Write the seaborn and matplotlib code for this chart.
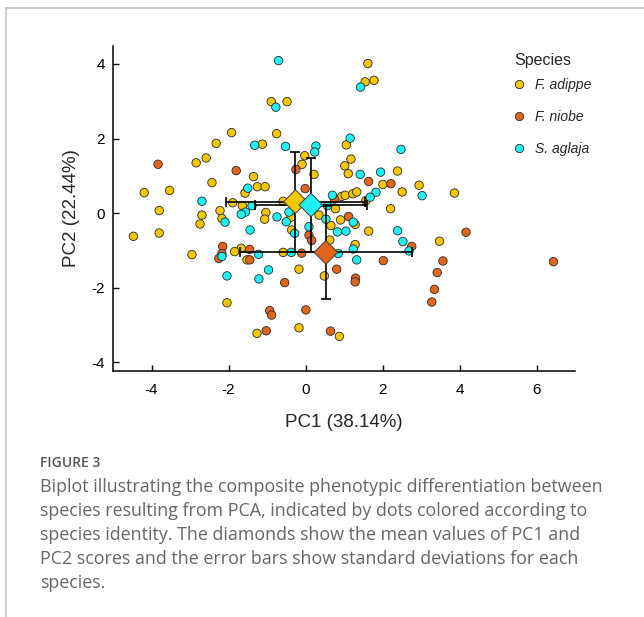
import matplotlib
matplotlib.use("Agg")
import matplotlib.pyplot as plt
from matplotlib.lines import Line2D
import seaborn as sns
import pandas as pd

# ---------------- data ----------------
species_names = ["F. adippe", "F. niobe", "S. aglaja"]
species_colors = ["#F4C600", "#E2651C", "#1EF0F4"]

adippe_pc1 = [-0.89, -0.48, -0.75, -1.92, -2.32, -1.12, -2.58, -2.84, -1.35, -2.43,
              -1.25, -1.05, -1.57, -4.19, -3.53, -1.89, -1.64, -2.22, -3.80, -0.58,
              -2.69, -1.03, -2.74, -2.17, -1.06, -0.38, -0.36, -0.02, -0.09, 0.22,
              1.06, 1.18, 1.02, 1.11, 2.39, 2.01, 2.95, 2.51, 0.94, 1.03,
              1.23, 1.33, 0.78, 1.57, 2.21, 0.35, 0.91, 0.66, 1.64, 3.87,
              1.62, 1.55, 1.78, 0.63, 1.29, 1.29, 3.48, -0.17, 0.49, -0.17,
              0.88, -4.47, -3.80, -2.95, -1.67, -1.84, -1.52, -0.58, -2.04, -1.26]
adippe_pc2 = [2.99, 2.99, 2.13, 2.16, 1.87, 1.85, 1.48, 1.35, 0.98, 0.82,
              0.71, 0.71, 0.54, 0.55, 0.61, 0.28, 0.20, 0.07, 0.07, 0.32,
              -0.05, 0.02, -0.29, -0.14, -0.16, -0.11, -0.45, 1.54, 1.31, 1.04,
              1.83, 1.45, 1.27, 1.06, 1.13, 0.77, 0.75, 0.57, 0.45, 0.48,
              0.52, 0.57, 0.12, 0.34, 0.12, -0.05, -0.18, -0.33, -0.48, 0.54,
              4.01, 3.52, 3.56, -0.72, -0.84, -0.30, -0.75, -1.50, -1.68, -3.07,
              -3.30, -0.62, -0.53, -1.11, -0.94, -1.03, -1.25, -1.05, -2.40, -3.22]

niobe_pc1 = [-3.83, -1.80, -0.25, -0.01, 1.64, 2.22, 0.75, 1.12, 0.09, 0.16,
             4.17, 2.76, 2.02, -0.10, 0.81, 1.30, 1.29, 3.57, 3.42, 3.35,
             3.28, 0.01, 0.65, 6.44, -2.15, -2.17, -2.25, -1.45, -1.45, -0.54,
             -0.93, -0.88, -1.02]
niobe_pc2 = [1.31, 1.14, 1.17, 0.66, 0.85, 0.79, 0.38, -0.09, -0.59, -0.73,
             -0.51, -0.89, -1.27, -1.07, -1.50, -1.74, -1.84, -1.28, -1.59, -2.04,
             -2.38, -2.59, -3.16, -1.30, -0.89, -1.08, -1.21, -0.97, -1.25, -1.86,
             -2.61, -2.73, -3.15]

aglaja_pc1 = [-0.70, -0.77, -1.32, -0.52, -1.50, -2.69, -1.39, -0.43, -1.56, -1.67,
              -0.74, -2.09, -0.50, -1.44, -0.28, 0.27, 0.24, 0.09, 1.16, 2.48,
              1.42, 1.95, 3.03, 1.83, 0.70, 0.57, 1.68, 0.53, 1.24, 2.39,
              0.83, 1.05, 2.53, 2.69, 1.24, 0.85, 1.33, -0.37, 1.43, -2.17,
              -1.22, -0.96, -1.21, -2.04]
aglaja_pc2 = [4.09, 2.84, 1.82, 1.79, 0.67, 0.32, 0.20, 0.03, 0.03, -0.03,
              -0.10, -0.24, -0.23, -0.45, -0.54, 1.80, 1.64, -0.36, 2.01, 1.71,
              1.04, 1.10, 0.47, 0.56, 0.48, 0.20, 0.43, -0.16, -0.24, -0.47,
              -0.50, -0.48, -0.76, -1.01, -0.96, -1.08, -1.25, -1.05, 3.38, -1.16,
              -1.10, -1.52, -1.76, -1.68]

mean_pc1 = [-0.26, 0.53, 0.14]
mean_pc2 = [0.31, -1.05, 0.22]
sd_pc1 = [1.81, 2.24, 1.45]
sd_pc2 = [1.34, 1.24, 1.25]

x_ticks = [-4, -2, 0, 2, 4, 6]
y_ticks = [-4, -2, 0, 2, 4]

caption_lines = [
    "Biplot illustrating the composite phenotypic differentiation between",
    "species resulting from PCA, indicated by dots colored according to",
    "species identity. The diamonds show the mean values of PC1 and",
    "PC2 scores and the error bars show standard deviations for each",
    "species.",
]

# ---------------- build tables ----------------
points = pd.concat([
    pd.DataFrame({"PC1": adippe_pc1, "PC2": adippe_pc2, "Species": species_names[0]}),
    pd.DataFrame({"PC1": niobe_pc1, "PC2": niobe_pc2, "Species": species_names[1]}),
    pd.DataFrame({"PC1": aglaja_pc1, "PC2": aglaja_pc2, "Species": species_names[2]}),
], ignore_index=True)
means = pd.DataFrame({"PC1": mean_pc1, "PC2": mean_pc2, "sd1": sd_pc1, "sd2": sd_pc2,
                      "Species": species_names})
palette = dict(zip(species_names, species_colors))

# ---------------- style ----------------
sns.set_style("ticks")
plt.rcParams["font.family"] = ["Liberation Sans", "DejaVu Sans"]

W, H = 644, 617
fig = plt.figure(figsize=(W / 100, H / 100), dpi=100)
ax = fig.add_axes([113 / W, 1 - 370.7 / H, (575 - 113) / W, (370.7 - 46) / H])

sns.scatterplot(data=points, x="PC1", y="PC2", hue="Species", palette=palette,
                hue_order=species_names, s=37, edgecolor="#2a2a2a", linewidth=0.6,
                legend=False, ax=ax, zorder=2)

for _, r in means.iterrows():
    ax.errorbar(r["PC1"], r["PC2"], xerr=r["sd1"], yerr=r["sd2"], fmt="none",
                ecolor="black", elinewidth=1.2, capsize=3.8, capthick=1.2, zorder=3)

sns.scatterplot(data=means, x="PC1", y="PC2", hue="Species", palette=palette,
                hue_order=species_names, marker="D", s=145, edgecolor="#3a3a3a",
                linewidth=0.7, legend=False, ax=ax, zorder=4)

ax.set_xlim(-5, 7)
ax.set_ylim(-4.22, 4.48)
ax.set_xticks(x_ticks)
ax.set_yticks(y_ticks)
ax.set_xticklabels([str(v) for v in x_ticks])
ax.set_yticklabels([str(v) for v in y_ticks])
ax.tick_params(direction="in", length=4, width=1, labelsize=11, colors="black", pad=9)
ax.tick_params(axis="y", pad=6)
for s in ["top", "right"]:
    ax.spines[s].set_visible(False)
for s in ["left", "bottom"]:
    ax.spines[s].set_linewidth(1.1)
    ax.spines[s].set_color("black")
ax.set_xlabel("PC1 (38.14%)", fontsize=13.5, labelpad=12)
ax.set_ylabel("PC2 (22.44%)", fontsize=13.5, labelpad=8)

# legend: title as its own text, entries as legend
ax.text(514 / W, 1 - 60 / H, "Species", transform=fig.transFigure, fontsize=11.5,
        ha="left", va="center")
handles = [Line2D([0], [0], marker="o", linestyle="none", markersize=6.0,
                  markerfacecolor=c, markeredgecolor="#2a2a2a", markeredgewidth=0.6)
           for c in species_colors]
leg = ax.legend(handles, species_names, loc="upper left",
                bbox_to_anchor=(0.866, (370.7 - 78) / 324.7), frameon=False,
                borderaxespad=0, borderpad=0, handlelength=0.8, handletextpad=0.75,
                labelspacing=1.28, fontsize=10)
for t in leg.get_texts():
    t.set_fontstyle("italic")

# ---------------- caption & page frame ----------------
fig.text(40 / W, 1 - 463 / H, "FIGURE 3", fontsize=10, color="#555555",
         fontweight="semibold", family=["Open Sans", "DejaVu Sans"], va="center", ha="left")
for i, line in enumerate(caption_lines):
    fig.text(40 / W, 1 - (487 + 24 * i) / H, line, fontsize=12.9, color="#666666",
             family=["Open Sans", "DejaVu Sans"], va="center", ha="left")

fig.add_artist(Line2D([6 / W, 6 / W], [0, 1 - 8 / H], transform=fig.transFigure,
                      color="#c4c4c4", lw=1.2))
fig.add_artist(Line2D([6 / W, 1], [1 - 8 / H, 1 - 8 / H], transform=fig.transFigure,
                      color="#c4c4c4", lw=1.2))

fig.savefig("out.png", dpi=100)
